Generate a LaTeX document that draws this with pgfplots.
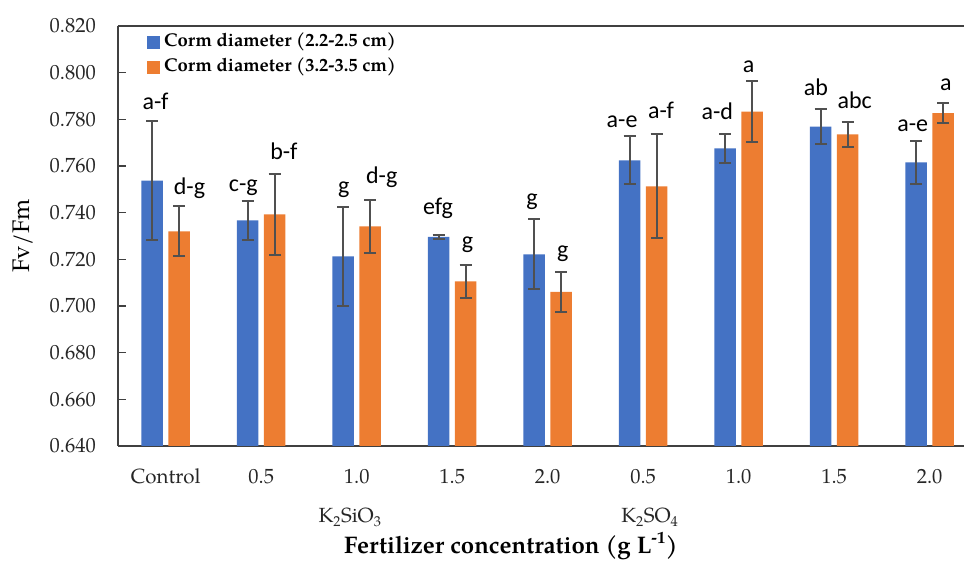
\documentclass[border=0pt]{standalone}
\usepackage{fontspec}
\setmainfont{TeX Gyre Pagella}
\newfontfamily\calfont{Carlito}
\usepackage{pgfplots}
\usepackage{pgfplotstable}
\pgfplotsset{compat=1.18}
\definecolor{cblue}{HTML}{4472C4}
\definecolor{corange}{HTML}{ED7D31}
\definecolor{errc}{HTML}{505050}
\definecolor{axc}{HTML}{404040}

\pgfplotstableread{
x v1 e1 v2 e2
0 0.7537 0.0254 0.7320 0.0107
1 0.7367 0.0083 0.7393 0.0174
2 0.7213 0.0213 0.7341 0.0114
3 0.7296 0.0008 0.7106 0.0071
4 0.7221 0.0150 0.7060 0.0085
5 0.7624 0.0103 0.7513 0.0222
6 0.7676 0.0062 0.7833 0.0131
7 0.7769 0.0074 0.7736 0.0053
8 0.7616 0.0093 0.7827 0.0042
}\datatab

\pgfplotstableread{
x y lab
-0.107 0.7840 a-f
0.249 0.7476 d-g
0.812 0.7490 c-g
1.237 0.7629 b-f
1.865 0.7483 g
2.262 0.7526 d-g
2.851 0.7390 efg
3.160 0.7247 g
3.836 0.7429 g
4.159 0.7209 g
4.779 0.7762 a-e
5.187 0.7804 a-f
5.776 0.7797 a-d
6.105 0.8000 a
6.810 0.7901 ab
7.216 0.7847 abc
7.823 0.7747 a-e
8.169 0.7921 a
}\lettab

\begin{document}
\begin{tikzpicture}
\useasboundingbox (0,0) rectangle (964pt,562pt);
\begin{axis}[
  at={(118pt,116pt)}, anchor=south west,
  scale only axis, width=846pt, height=420pt,
  ybar, bar width=21.5pt,
  xmin=-0.5, xmax=8.36, ymin=0.64, ymax=0.82,
  axis lines=left,
  axis line style={-, draw=axc, line width=1.2pt},
  xtick={0,1,2,3,4,5,6,7,8},
  xticklabels={Control,0.5,1.0,1.5,2.0,0.5,1.0,1.5,2.0},
  x tick style={draw=none},
  ytick={0.64,0.66,0.68,0.70,0.72,0.74,0.76,0.78,0.80,0.82},
  y tick style={draw=axc, line width=1.2pt},
  tick align=inside, major tick length=8pt,
  /pgf/number format/assume math mode=true,
  yticklabel style={/pgf/number format/.cd, fixed, fixed zerofill, precision=3, /tikz/.cd, inner sep=0pt, xshift=-22pt},
  tick label style={font=\fontsize{20.5}{24}\selectfont, text=black!85},
  xticklabel style={anchor=base, inner sep=0pt, yshift=-38pt},
  clip mode=individual,
  every error bar/.append style={line width=2pt, draw=errc},
  xlabel={Fertilizer concentration (g L\textsuperscript{-1})},
  every axis x label/.style={at={(rel axis cs:0.4645,0)}, anchor=base, yshift=-107pt, font=\bfseries\fontsize{24}{28}\selectfont},
  ylabel={Fv/Fm},
  every axis y label/.style={at={(rel axis cs:0,0.5)}, xshift=-95pt, rotate=90, anchor=center, font=\fontsize{24}{28}\selectfont},
  legend cell align=left,
  legend style={at={(0,1)}, anchor=north west, xshift=29pt, yshift=-6.5pt,
    draw=none, fill=none, inner sep=0pt, row sep=6pt, column sep=4pt,
    font=\bfseries\fontsize{18.5}{23}\selectfont,
    nodes={inner sep=0pt, text height=14pt, text depth=5pt}},
]
\addplot[bar shift=-13.5pt, fill=cblue, draw=none, line width=2pt,
  legend image code/.code={\fill[cblue] (0pt,-6.5pt) rectangle (13pt,6.5pt);},
  error bars/.cd, y dir=both, y explicit,
  error bar style={line width=2pt, draw=errc},
  error mark options={rotate=90, line width=2pt, draw=errc, mark size=6pt}]
  table[x=x, y=v1, y error=e1] {\datatab};
\addlegendentry{Corm diameter (2.2-2.5 cm)}
\addplot[bar shift=13.5pt, fill=corange, draw=none, line width=2pt,
  legend image code/.code={\fill[corange] (0pt,-6.5pt) rectangle (13pt,6.5pt);},
  error bars/.cd, y dir=both, y explicit,
  error bar style={line width=2pt, draw=errc},
  error mark options={rotate=90, line width=2pt, draw=errc, mark size=6pt}]
  table[x=x, y=v2, y error=e2] {\datatab};
\addlegendentry{Corm diameter (3.2-3.5 cm)}
\addplot[forget plot, bar shift=0pt, draw=none, fill=none,
  nodes near coords, point meta=explicit symbolic,
  nodes near coords style={inner sep=0pt, text depth=0pt, text=black, font=\calfont\fontsize{24}{28}\selectfont}]
  table[x=x, y=y, meta=lab] {\lettab};
\draw[axc, line width=1.2pt] (rel axis cs:0,1) -- (rel axis cs:1,1);
\node[anchor=base, inner sep=0pt, yshift=-77pt, font=\fontsize{20.5}{24}\selectfont, text=black!85] at (axis cs:1.93,0.64) {K\textsubscript{2}SiO\textsubscript{3}};
\node[anchor=base, inner sep=0pt, yshift=-77pt, font=\fontsize{20.5}{24}\selectfont, text=black!85] at (axis cs:5.07,0.64) {K\textsubscript{2}SO\textsubscript{4}};
\end{axis}
\end{tikzpicture}
\end{document}
